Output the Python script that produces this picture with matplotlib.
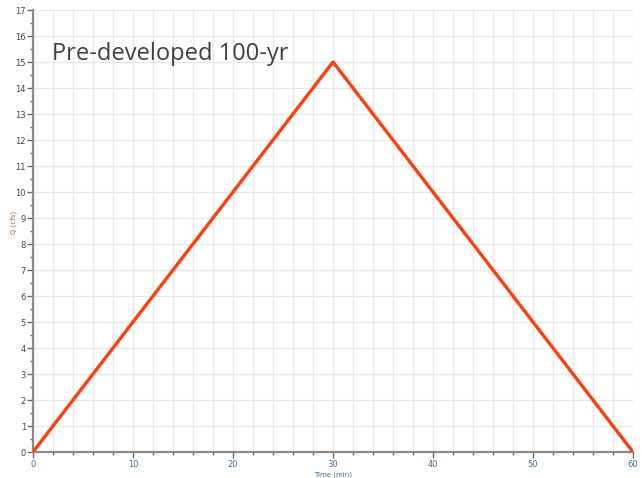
import matplotlib
matplotlib.use("Agg")
import matplotlib.pyplot as plt
from matplotlib.ticker import MultipleLocator

time_min = [0, 30, 60]
flow_cfs = [0, 15, 0]
title_text = "Pre-developed 100-yr"

fig = plt.figure(figsize=(6.42, 4.78), dpi=100)
ax = fig.add_axes([33/642, 1-452/478, 600/642, 442/478])
ax.plot(time_min, flow_cfs, color="#ff3d0d", lw=2.4, solid_capstyle="butt", zorder=3)
ax.set_xlim(0, 60)
ax.set_ylim(0, 17)
ax.xaxis.set_major_locator(MultipleLocator(10))
ax.xaxis.set_minor_locator(MultipleLocator(2))
ax.yaxis.set_major_locator(MultipleLocator(1))
ax.yaxis.set_minor_locator(MultipleLocator(0.5))
ax.grid(True, which="major", axis="y", color="#e6e6e6", lw=0.9)
ax.grid(True, which="minor", axis="x", color="#e6e6e6", lw=0.9)
ax.grid(True, which="major", axis="x", color="#e6e6e6", lw=0.9)
for s in ["top", "right"]:
    ax.spines[s].set_visible(False)
for s in ["left", "bottom"]:
    ax.spines[s].set_color("#8a8a8a")
    ax.spines[s].set_linewidth(1.6)
ax.tick_params(axis="both", which="both", color="#666666", width=1, labelsize=6)
ax.tick_params(axis="both", which="major", length=4)
ax.tick_params(axis="both", which="minor", length=2.5)
ax.tick_params(axis="x", labelcolor="#3c6ea8", pad=2)
ax.tick_params(axis="y", labelcolor="#444444", pad=1)
ax.set_xlabel("Time (min)", fontsize=5, color="#3c6ea8")
ax.set_ylabel("Q (cfs)", fontsize=5, color="#b5632b")
ax.xaxis.set_label_coords(0.5, -20/442)
ax.yaxis.set_label_coords(-16/600, 0.52)
ax.text(1.9, 15.3, title_text, fontsize=17, color="#404040", family=["Open Sans", "DejaVu Sans"], va="center", ha="left")
fig.savefig("out.png", dpi=100)
